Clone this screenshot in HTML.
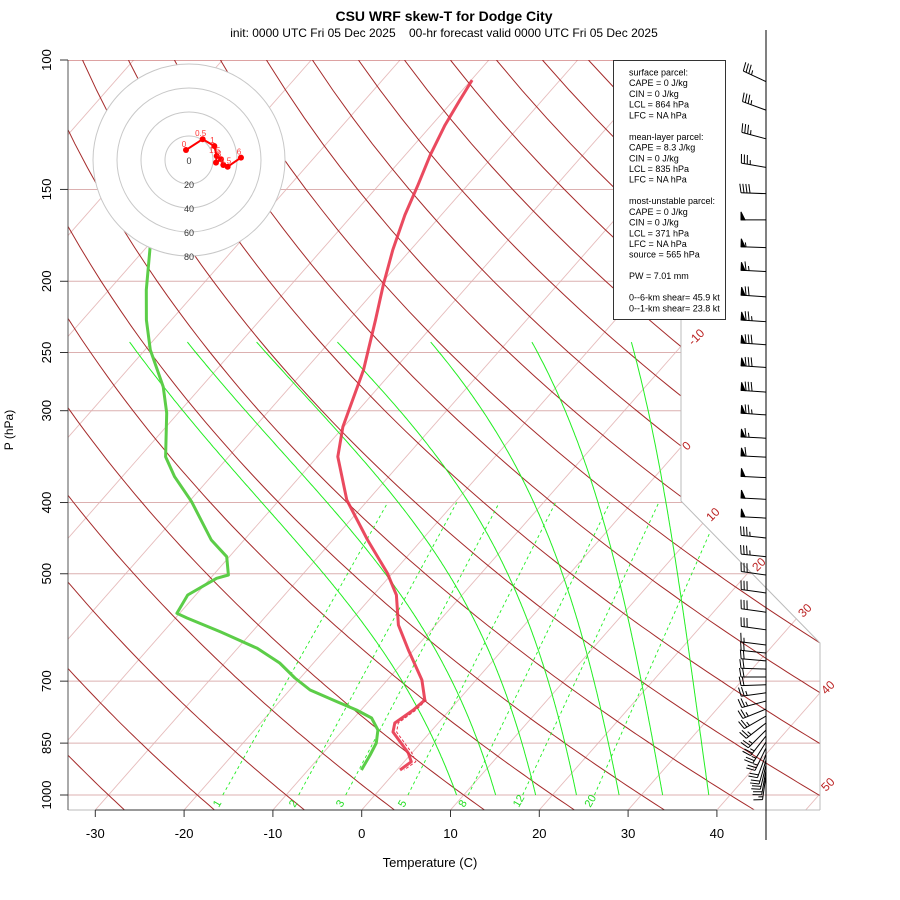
<!DOCTYPE html>
<html><head><meta charset="utf-8"><style>
html,body{margin:0;padding:0;background:#fff;}
svg{display:block;font-family:"Liberation Sans",sans-serif;}
</style></head><body>
<svg id="chart" width="900" height="900" viewBox="0 0 900 900" xmlns="http://www.w3.org/2000/svg">
<defs><clipPath id="plotclip"><polygon points="68,60 681,60 681,501 820,643 820,810 68,810"/></clipPath></defs>
<rect width="900" height="900" fill="#fff"/>
<text x="444" y="21" font-size="14" font-weight="bold" text-anchor="middle">CSU WRF skew-T for Dodge City</text>
<text x="444" y="37" font-size="12" text-anchor="middle" style="white-space:pre">init: 0000 UTC Fri 05 Dec 2025    00-hr forecast valid 0000 UTC Fri 05 Dec 2025</text>
<g id="bg" clip-path="url(#plotclip)"></g>
<polyline points="681,60 681,501 820,643 820,810" fill="none" stroke="#bbb" stroke-width="1"/>
<line x1="68" y1="810" x2="820" y2="810" stroke="#bbb" stroke-width="1"/>
<g id="profiles"></g>
<g id="axes"></g>
<g id="hodo"></g>
<g id="barbs"></g>
<g>
<rect x="613.5" y="60.5" width="112" height="259" fill="#fff" stroke="#333" stroke-width="1"/>
<g font-size="9" fill="#000" id="legtext" style="white-space:pre"></g>
</g>
<g font-size="12" fill="#b22" id="isolabels">
<text transform="translate(693,346) rotate(-45)">-10</text>
<text transform="translate(687,451) rotate(-45)">0</text>
<text transform="translate(711,522) rotate(-45)">10</text>
<text transform="translate(757,572) rotate(-45)">20</text>
<text transform="translate(803,618) rotate(-45)">30</text>
<text transform="translate(826,695) rotate(-45)">40</text>
<text transform="translate(826,792) rotate(-45)">50</text>
</g>
</svg>
<script>
// ---- data ----
const tempP = [106.5,113.4,122.6,134.6,147.9,162.5,181.3,202.3,225.8,264.1,315.4,346.5,396.9,449.8,498.8,534.4,587.1,634.9,697.5,742.6,766.2,798.0,820.9,876.7,900.9,924.7];
const tempT = [-59.9,-59.3,-58.5,-57.2,-55.6,-54.1,-52.0,-49.6,-47.0,-43.4,-40.1,-37.7,-32.4,-26.1,-20.6,-17.4,-14.2,-10.6,-6.1,-3.8,-4.1,-4.9,-4.2,-0.4,0.8,0.35];
const virtP = [742.6,766.2,798.0,820.9,876.7,900.9,924.7];
const virtT = [-3.6,-3.8,-4.5,-3.8,0.0,1.3,0.8];
const dewP = [178.5,205.5,225.8,248.0,278.3,302.2,346.5,368.9,399.0,449.8,474.0,502.0,507.2,534.4,566.0,574.4,599.5,631.5,661.3,693.1,719.7,746.6,766.2,785.7,815.8,849.7,882.2,924.7];
const dewT = [-79.8,-75.8,-72.8,-69.4,-64.3,-61.3,-57.1,-54.1,-49.7,-43.7,-40.3,-38.3,-39.3,-40.9,-40.3,-38.7,-33.6,-27.8,-23.8,-20.6,-17.7,-13.5,-10.5,-8.0,-6.1,-5.0,-4.5,-4.0];
const pressureTicks = [100,150,200,250,300,400,500,700,850,1000];
const tempTicks = [-30,-20,-10,0,10,20,30,40];
const dryThetas = [];for(let t=-30;t<=200;t+=10)dryThetas.push(t);
const isoTemps = [];for(let t=-160;t<=50;t+=10)isoTemps.push(t);
const moistT0 = [9.2,13.6,18.1,22.7,27.5,32.4,37.6];
const moistTopT = [-72.5,-66.0,-58.2,-49.1,-38.6,-27.2,-16.0];
const mixRatios = [1,2,3,5,8,12,20];
const barbP = [107,117,128,140,152,165,180,194,210,227,244,262,283,304,327,347,370,396,420,447,474,502,531,564,596,625,641,657,674,691,708,726,745,764,781,798,816,831,847,863,880,896,910,925,939];
const barbDir = [295,290,285,280,272,270,272,273,274,274,274,274,274,274,273,273,273,273,273,276,276,278,278,278,278,277,276,275,272,270,268,262,255,248,240,232,225,218,212,206,200,196,193,190,188];
const barbSpd = [35,35,35,35,40,50,55,65,70,75,80,80,80,75,65,60,50,50,50,35,35,30,30,30,30,15,20,20,20,20,20,25,25,25,25,25,25,25,25,25,20,20,20,20,15];
const hodoU = [-2.5,11.4,21.1,23.1,22.5,26.7,28.6,32.2,43.3];
const hodoV = [8.3,17.3,11.7,3.3,-2.2,0.6,-4.2,-5.6,2.0];
const hodoLbl = ["0","0.5","1","1.5","","3","","4.5","6"];
const hodoRings = [20,40,60,80];
const legendLines = ["surface parcel:","CAPE = 0 J/kg","CIN = 0 J/kg","LCL = 864 hPa","LFC = NA hPa","","mean-layer parcel:","CAPE = 8.3 J/kg","CIN = 0 J/kg","LCL = 835 hPa","LFC = NA hPa","","most-unstable parcel:","CAPE = 0 J/kg","CIN = 0 J/kg","LCL = 371 hPa","LFC = NA hPa","source = 565 hPa","","PW =  7.01 mm","","0--6-km shear= 45.9 kt","0--1-km shear= 23.8 kt"];

// ---- scales ----
const X0=361.7,SX=8.88,K=0.88,YB=810;
function yP(p){return 795-319.2*Math.log(1000/p);}
function xTP(T,p){return X0+SX*T+K*(YB-yP(p));}
const NS="http://www.w3.org/2000/svg";
function mk(tag,attrs,parent){const e=document.createElementNS(NS,tag);for(const k in attrs)e.setAttribute(k,attrs[k]);parent.appendChild(e);return e;}
function pts(arr){return arr.map(a=>a[0].toFixed(1)+","+a[1].toFixed(1)).join(" ");}
const bg=document.getElementById('bg');

isoTemps.forEach(T=>{
  const e=mk('line',{x1:xTP(T,1050),y1:yP(1050),x2:xTP(T,100),y2:yP(100),stroke:'#e6bcbc','stroke-width':0.9},bg);
  
  
});
pressureTicks.forEach(p=>{
  const e=mk('line',{x1:68,y1:yP(p),x2:820,y2:yP(p),stroke:(p==100?'#b44':'#dcb0b0'),'stroke-width':1},bg);
  
  
});
dryThetas.forEach(th=>{
  const a=[];for(let p=1050;p>=100;p-=10){const T=(th+273.15)*Math.pow(p/1000,0.2857)-273.15;a.push([xTP(T,p),yP(p)]);}
  const e=mk('polyline',{points:pts(a),fill:'none',stroke:'#a52a2a','stroke-width':1},bg);
  
  
});
function tdFromW(w,p){const e=w*p/(622+w);const l=Math.log(e/6.112);return 243.5*l/(17.67-l);}
mixRatios.forEach(w=>{
  const e=mk('line',{x1:xTP(tdFromW(w,1000),1000),y1:yP(1000),x2:xTP(tdFromW(w,400),400),y2:yP(400),stroke:'#22ee22','stroke-width':0.9,'stroke-dasharray':'3,3'},bg);
  
  
  const x=xTP(tdFromW(w,1000),1000)-4;
  const t=mk('text',{transform:`translate(${x.toFixed(1)},808) rotate(-60)`,'font-size':11,fill:'#22dd22'},document.getElementById('chart'));
  t.textContent=w;
  
  
});
function es(Tc){return 6.112*Math.exp(17.67*Tc/(Tc+243.5));}
const PTOP=243;
moistT0.forEach((T0,idx)=>{
  let T=T0+273.15,p=1000;const raw=[[T0,1000]];
  const Rd=287.04,cp=1005.7,Lv=2.501e6,eps=0.622;
  const f=(TT,pp)=>{const e=es(TT-273.15);const rs=eps*e/(pp-e);return (Rd*TT+Lv*rs)/(pp*(cp+Lv*Lv*rs*eps/(Rd*TT*TT)));};
  while(p>PTOP){
    const dp=-2;
    const k1=f(T,p),k2=f(T+k1*dp/2,p+dp/2),k3=f(T+k2*dp/2,p+dp/2),k4=f(T+k3*dp,p+dp);
    T+=dp*(k1+2*k2+2*k3+k4)/6;p+=dp;
    raw.push([T-273.15,p]);
  }
  const err=moistTopT[idx]-raw[raw.length-1][0];
  const L=Math.log(1000/raw[raw.length-1][1]);
  const a=raw.map(q=>{const fr=Math.log(1000/q[1])/L;const tt=q[0]+err*fr;return [xTP(tt,q[1]),yP(q[1])];});
  const e=mk('polyline',{points:pts(a),fill:'none',stroke:'#22ee22','stroke-width':1},bg);
  
  
});

const prof=document.getElementById('profiles');
let e1=mk('polyline',{points:pts(tempP.map((p,i)=>[xTP(tempT[i],p),yP(p)])),fill:'none',stroke:'#e8364e','stroke-width':3,'stroke-linejoin':'round','stroke-opacity':0.9},prof);


let e2=mk('polyline',{points:pts(virtP.map((p,i)=>[xTP(virtT[i],p),yP(p)])),fill:'none',stroke:'#e8364e','stroke-width':1,'stroke-dasharray':'3,2'},prof);


let e3=mk('polyline',{points:pts(dewP.map((p,i)=>[xTP(dewT[i],p),yP(p)])),fill:'none',stroke:'#5ccd48','stroke-width':3,'stroke-linejoin':'round'},prof);



const ax=document.getElementById('axes');
let a1=mk('line',{x1:68,y1:60,x2:68,y2:810,stroke:'#555','stroke-width':1},ax);


pressureTicks.forEach(p=>{
  const y=yP(p);
  const t=mk('line',{x1:60,y1:y,x2:68,y2:y,stroke:'#333'},ax);
  
  
  const l=mk('text',{transform:`translate(51,${y.toFixed(1)}) rotate(-90)`,'font-size':13,'text-anchor':'middle'},ax);
  l.textContent=p;
  
  
});
let a2=mk('line',{x1:X0+SX*-30,y1:810,x2:X0+SX*40,y2:810,stroke:'#333','stroke-width':1},ax);


tempTicks.forEach(T=>{
  const x=X0+SX*T;
  const t=mk('line',{x1:x,y1:810,x2:x,y2:817,stroke:'#333'},ax);
  
  
  const l=mk('text',{x:x,y:838,'font-size':13,'text-anchor':'middle'},ax);
  l.textContent=T;
  
  
});
let xl=mk('text',{x:430,y:867,'font-size':13,'text-anchor':'middle'},ax);
xl.textContent='Temperature (C)';


let yl=mk('text',{transform:'translate(13,430) rotate(-90)','font-size':12,'text-anchor':'middle'},ax);
yl.textContent='P (hPa)';



const hg=document.getElementById('hodo');
const HX=189,HY=160,HS=1.2;
let hb=mk('circle',{cx:HX,cy:HY,r:96,fill:'#fff',stroke:'none'},hg);


hodoRings.forEach(r=>{
  const c=mk('circle',{cx:HX,cy:HY,r:r*HS,fill:'none',stroke:'#c8c8c8','stroke-width':1},hg);
  
  
  const t=mk('text',{x:HX,y:HY+r*HS+4,'font-size':9,'text-anchor':'middle',fill:'#333'},hg);
  t.textContent=r;
  
  
});
let h0=mk('text',{x:HX,y:HY+4,'font-size':9,'text-anchor':'middle',fill:'#333'},hg);
h0.textContent='0';


const hp=hodoU.map((u,i)=>[HX+u*HS,HY-hodoV[i]*HS]);
let hl=mk('polyline',{points:pts(hp),fill:'none',stroke:'#f00','stroke-width':2},hg);


hp.forEach((q,i)=>{
  const c=mk('circle',{cx:q[0],cy:q[1],r:3,fill:'#f00'},hg);
  
  
  if(hodoLbl[i]){const t=mk('text',{x:q[0]-2,y:q[1]-3,'font-size':8,'text-anchor':'middle',fill:'#f33'},hg);
  t.textContent=hodoLbl[i];
  
  }
});

const bgG=document.getElementById('barbs');
let bl=mk('line',{x1:766,y1:30,x2:766,y2:840,stroke:'#000','stroke-width':1},bgG);


barbP.forEach((p,i)=>{
  const d=barbDir[i]*Math.PI/180;const sx=Math.sin(d),sy=-Math.cos(d);const fx=-sy,fy=sx;
  const bx=766,by=yP(p),L=25,tx=bx+sx*L,ty=by+sy*L;
  const g=mk('g',{stroke:'#000','stroke-width':1,fill:'#000'},bgG);
  
  
  mk('line',{x1:bx,y1:by,x2:tx,y2:ty},g);
  let s=barbSpd[i],pos=0;
  while(s>=50){const px=tx-sx*pos,py=ty-sy*pos;mk('polygon',{points:`${px},${py} ${px-sx*4},${py-sy*4} ${px+fx*8},${py+fy*8}`},g);pos+=5;s-=50;}
  while(s>=10){const px=tx-sx*pos,py=ty-sy*pos;mk('line',{x1:px,y1:py,x2:px+fx*9+sx*1.5,y2:py+fy*9+sy*1.5},g);pos+=3;s-=10;}
  if(s>=5){if(pos==0)pos=3;const px=tx-sx*pos,py=ty-sy*pos;mk('line',{x1:px,y1:py,x2:px+fx*4.5+sx*0.8,y2:py+fy*4.5+sy*0.8},g);}
});

const lt=document.getElementById('legtext');
legendLines.forEach((s,i)=>{
  if(!s)return;
  const t=mk('text',{x:629,y:75.5+i*10.72},lt);
  t.textContent=s;
  
  
});
</script>
</body></html>
